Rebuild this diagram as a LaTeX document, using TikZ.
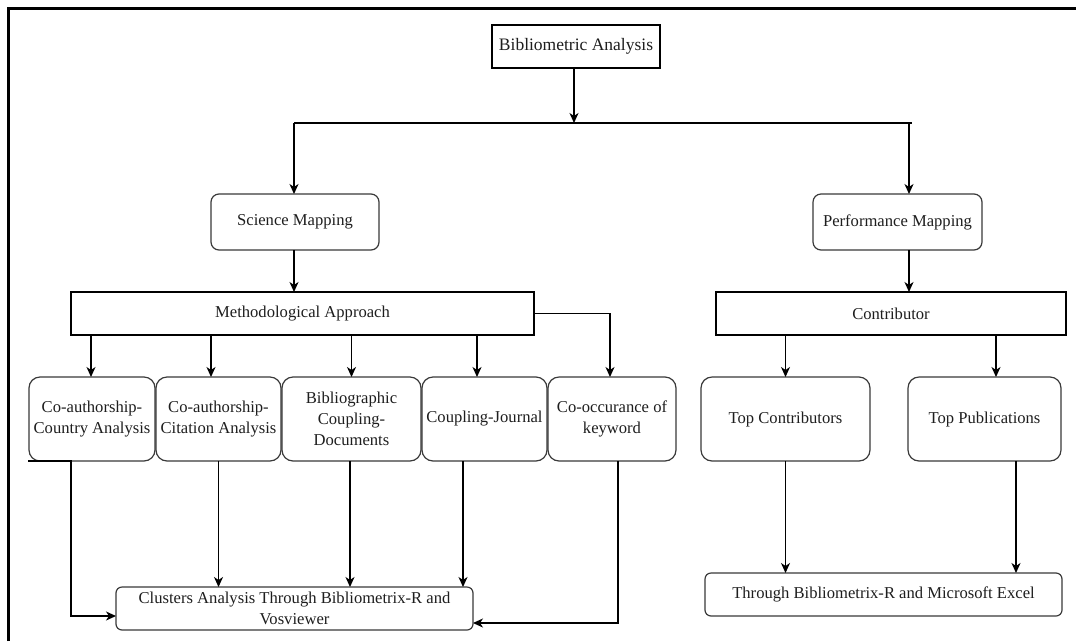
\documentclass[tikz,border=0pt]{standalone}
\usepackage{fontspec}
\setmainfont{Liberation Serif}
\usetikzlibrary{arrows.meta}
\definecolor{boxline}{HTML}{3A3A3A}
\definecolor{txt}{HTML}{1E1E1E}
\begin{document}
\begin{tikzpicture}[x=1pt,y=-1pt,
  every node/.style={inner sep=0pt, outer sep=0pt, text=txt, align=center,
    font=\fontsize{16.6}{20.7}\selectfont},
  sharpbox/.style={draw=black, line width=1.6pt},
  rbox/.style={draw=boxline, line width=1.2pt, rounded corners=11pt},
  rsmall/.style={draw=boxline, line width=1.2pt, rounded corners=8pt},
  rflat/.style={draw=boxline, line width=1.2pt, rounded corners=6pt},
  conn/.style={draw=black, line width=1.4pt},
  arr/.style={conn, -{Stealth[length=10pt,width=9pt,inset=3pt]}}]
\useasboundingbox (0,0) rectangle (1076,641);
\fill[white] (0,0) rectangle (1076,641);
% frame
\draw[line width=2.4pt] (8.5,641) -- (8.5,8.5) -- (1076,8.5);

% nodes
\node[sharpbox, minimum width=168pt, minimum height=43pt,
      font=\fontsize{17.5}{21}\selectfont] (bib) at (576,46.5) {Bibliometric Analysis};
\node[rsmall, minimum width=168pt, minimum height=56pt] (sci) at (295,222) {Science Mapping};
\node[rsmall, minimum width=169pt, minimum height=56pt] (perf) at (897.5,222) {Performance Mapping};
\node[sharpbox, minimum width=463pt, minimum height=43pt] (meth) at (302.5,313.5) {Methodological Approach};
\node[sharpbox, minimum width=350pt, minimum height=43pt] (contr) at (891,313.5) {Contributor};

\node[rbox, minimum width=126pt, minimum height=84pt] (ca) at (92,419) {Co-authorship-\\Country Analysis};
\node[rbox, minimum width=125pt, minimum height=84pt] (cc) at (218.5,419) {Co-authorship-\\Citation Analysis};
\node[rbox, minimum width=139pt, minimum height=84pt] (bc) at (351.5,419) {Bibliographic\\Coupling-\\Documents};
\node[rbox, minimum width=125pt, minimum height=84pt] (cj) at (484.5,419) {Coupling-Journal};
\node[rbox, minimum width=128pt, minimum height=84pt] (ck) at (612,419) {Co-occurance of\\keyword};
\node[rbox, minimum width=169pt, minimum height=84pt] (tc) at (785.5,419) {Top Contributors};
\node[rbox, minimum width=153pt, minimum height=84pt] (tp) at (984.5,419) {Top Publications};

\node[rflat, minimum width=357pt, minimum height=43pt] (cl) at (294.5,608.5) {Clusters Analysis Through Bibliometrix-R and\\Vosviewer};
\node[rflat, minimum width=357pt, minimum height=43pt] (tb) at (883.5,594.5) {Through Bibliometrix-R and Microsoft Excel};

% top split
\coordinate (hl) at (294,123);
\coordinate (hr) at (912,123);
\coordinate (hr2) at (909,123);
\draw[conn] (hl) -- (hr);
\draw[arr] ([xshift=-2pt]bib.south) -- ([xshift=-2pt]bib.south |- hl);
\draw[arr] (hl) -- (hl |- sci.north);
\draw[arr] (hr2) -- (hr2 |- perf.north);
\draw[arr] (sci.south -| hl) -- (hl |- meth.north);
\draw[arr] (perf.south -| hr2) -- (hr2 |- contr.north);

% methodological to boxes
\draw[arr] ([xshift=-1pt]ca.north |- meth.south) -- ([xshift=-1pt]ca.north);
\draw[arr] ([xshift=-7.5pt]cc.north |- meth.south) -- ([xshift=-7.5pt]cc.north);
\draw[arr] (bc.north |- meth.south) -- (bc.north);
\draw[arr] ([xshift=-7.5pt]cj.north |- meth.south) -- ([xshift=-7.5pt]cj.north);
\coordinate (mk) at (610,313.5);
\draw[arr] (meth.east) -- (mk) -- (mk |- ck.north);

% contributor to boxes
\draw[arr] (tc.north |- contr.south) -- (tc.north);
\draw[arr] ([xshift=11.5pt]tp.north |- contr.south) -- ([xshift=11.5pt]tp.north);

% boxes to clusters
\coordinate (cak) at (71,461);
\coordinate (clw) at ([yshift=-7.5pt]cl.west);
\coordinate (cle) at ([yshift=-14.5pt]cl.east);
\draw[arr] ([xshift=-1pt]ca.south west) -- (cak) -- (cak |- clw) -- (clw);
\draw[arr] (cc.south) -- (cc.south |- cl.north);
\draw[arr] ([xshift=-1.5pt]bc.south) -- ([xshift=-1.5pt]bc.south |- cl.north);
\draw[arr] ([xshift=-21.5pt]cj.south) -- ([xshift=-21.5pt]cj.south |- cl.north);
\coordinate (ckk) at (618,623);
\draw[arr] ([xshift=6pt]ck.south) -- (ckk) -- (cle);

% to excel
\draw[arr] (tc.south) -- (tc.south |- tb.north);
\draw[arr] ([xshift=31.5pt]tp.south) -- ([xshift=31.5pt]tp.south |- tb.north);
\end{tikzpicture}
\end{document}
